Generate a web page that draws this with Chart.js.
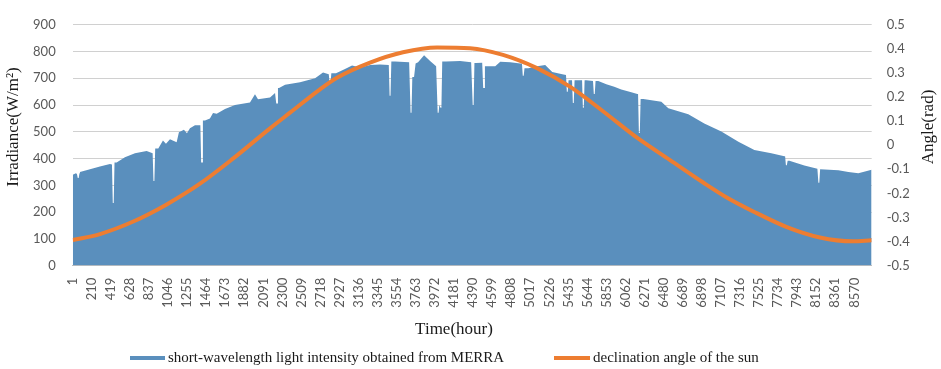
<!DOCTYPE html>
<html>
<head>
<meta charset="utf-8">
<script src="https://cdn.jsdelivr.net/npm/chart.js@4.4.0/dist/chart.umd.min.js"></script>
<style>
  html, body { margin: 0; padding: 0; background: #fff; }
  #wrap { width: 941px; height: 369px; position: relative; }
</style>
</head>
<body>
<div id="wrap"><canvas id="chart"></canvas></div>
<script>
// x axis tick labels (hours)
const xTicks = [1, 210, 419, 628, 837, 1046, 1255, 1464, 1673, 1882, 2091, 2300, 2509, 2718, 2927,
    3136, 3345, 3554, 3763, 3972, 4181, 4390, 4599, 4808, 5017, 5226, 5435, 5644, 5853, 6062,
    6271, 6480, 6689, 6898, 7107, 7316, 7525, 7734, 7943, 8152, 8361, 8570];

// short-wavelength light intensity (W/m2) as [hour, value]
const irradiance = [
    [1, 340], [36, 345], [47, 342], [56, 327], [66, 327], [75, 345], [80, 350], [190, 360], [299, 370],
    [409, 380], [431, 378], [440, 234], [450, 234], [459, 385], [482, 385], [573, 405], [683, 420],
    [811, 428], [877, 420], [886, 316], [896, 316], [905, 438], [939, 438], [990, 468], [1023, 455],
    [1067, 472], [1140, 461], [1165, 498], [1220, 508], [1253, 495], [1286, 513], [1341, 525],
    [1400, 525], [1409, 385], [1419, 385], [1428, 542], [1451, 542], [1505, 550], [1539, 570],
    [1579, 568], [1670, 585], [1780, 600], [1944, 610], [1999, 640], [2032, 622], [2164, 628],
    [2219, 645], [2223, 645], [2232, 606], [2242, 606], [2251, 664], [2263, 664], [2329, 676],
    [2493, 685], [2658, 700], [2745, 722], [2808, 715], [2817, 681], [2827, 681], [2836, 719],
    [2887, 719], [2986, 735], [3063, 748], [3151, 740], [3261, 750], [3370, 752], [3466, 750],
    [3475, 635], [3485, 635], [3494, 763], [3535, 763], [3689, 760], [3696, 760], [3705, 571],
    [3715, 571], [3724, 705], [3743, 705], [3760, 755], [3787, 760], [3853, 786], [3919, 765],
    [3985, 745], [3993, 745], [4002, 571], [4012, 571], [4020, 600], [4033, 590], [4043, 590],
    [4052, 763], [4094, 763], [4248, 765], [4369, 760], [4377, 760], [4386, 600], [4396, 600],
    [4405, 757], [4424, 757], [4490, 758], [4492, 758], [4501, 664], [4511, 664], [4520, 745],
    [4556, 745], [4633, 745], [4688, 762], [4798, 760], [4907, 755], [4926, 755], [4935, 710],
    [4945, 710], [4954, 738], [4995, 738], [5093, 745], [5181, 750], [5258, 724], [5368, 715],
    [5409, 712], [5418, 650], [5428, 650], [5437, 693], [5467, 693], [5475, 693], [5484, 608],
    [5494, 608], [5503, 693], [5522, 693], [5585, 693], [5594, 590], [5604, 590], [5613, 693],
    [5632, 693], [5705, 690], [5714, 641], [5724, 641], [5733, 690], [5763, 690], [5851, 678],
    [5938, 668], [6015, 658], [6125, 648], [6191, 641], [6199, 641], [6208, 496], [6218, 496],
    [6227, 623], [6257, 623], [6454, 612], [6531, 588], [6750, 566], [6925, 531], [7112, 501],
    [7299, 463], [7474, 432], [7660, 420], [7803, 409], [7811, 409], [7820, 375], [7830, 375],
    [7839, 392], [7858, 392], [8022, 374], [8165, 362], [8167, 362], [8176, 310], [8186, 310],
    [8195, 360], [8198, 360], [8395, 356], [8505, 350], [8614, 345], [8760, 358]
];

// declination angle of the sun (rad)
const declHours = [1, 300, 665, 1031, 1396, 1761, 2164, 2383, 2712, 2898, 3260, 3622, 3995,
    4357, 4718, 5091, 5456, 5818, 6191, 6550, 6913, 7176, 7462, 7830, 8192, 8554, 8760];
const declValues = [-0.394, -0.369, -0.317, -0.246, -0.160, -0.055, 0.070, 0.135, 0.232, 0.280,
    0.343, 0.386, 0.406, 0.403, 0.375, 0.320, 0.242, 0.140, 0.030, -0.062, -0.155, -0.218, -0.275,
    -0.340, -0.383, -0.399, -0.395];

const blue = '#5a8fbd';
const orange = '#ed7d31';
const serif = '"Liberation Serif", "Times New Roman", serif';
const sans = 'Lato, "Open Sans", sans-serif';

const extraText = {
    id: 'extraText',
    afterDraw(chart) {
        const ctx = chart.ctx;
        ctx.save();
        ctx.fillStyle = '#1a1a1a';
        ctx.textBaseline = 'middle';
        ctx.font = '17px ' + serif;
        ctx.textAlign = 'center';
        ctx.save();
        ctx.translate(14, 127);
        ctx.rotate(-Math.PI / 2);
        ctx.fillText('Irradiance(W/m\u00b2)', 0, 0);
        ctx.restore();
        ctx.save();
        ctx.translate(929, 127);
        ctx.rotate(-Math.PI / 2);
        ctx.fillText('Angle(rad)', 0, 0);
        ctx.restore();
        ctx.fillText('Time(hour)', 454, 330);

        // legend
        ctx.font = '15px ' + serif;
        ctx.textAlign = 'left';
        ctx.fillStyle = blue;
        ctx.fillRect(130, 356, 35, 4);
        ctx.fillStyle = orange;
        ctx.fillRect(554, 356, 36, 4);
        ctx.fillStyle = '#1a1a1a';
        ctx.fillText('short-wavelength light intensity obtained from MERRA', 168, 358);
        ctx.fillText('declination angle of the sun', 593, 358);
        ctx.restore();
    }
};

const ctx = document.getElementById('chart');
new Chart(ctx, {
    type: 'line',
    data: {
        datasets: [{
            label: 'declination angle of the sun',
            data: declHours.map((h, i) => ({ x: h, y: declValues[i] })),
            yAxisID: 'y1',
            borderColor: orange,
            backgroundColor: orange,
            borderWidth: 4,
            pointRadius: 0,
            cubicInterpolationMode: 'monotone',
            fill: false
        }, {
            label: 'short-wavelength light intensity obtained from MERRA',
            data: irradiance.map(p => ({ x: p[0], y: p[1] })),
            yAxisID: 'y',
            borderColor: blue,
            backgroundColor: blue,
            borderWidth: 0,
            pointRadius: 0,
            tension: 0,
            fill: 'origin'
        }]
    },
    options: {
        responsive: true,
        maintainAspectRatio: false,
        animation: false,
        layout: {
            padding: { top: 0, left: 0, right: 0, bottom: 0 }
        },
        plugins: {
            legend: { display: false },
            tooltip: { enabled: false }
        },
        scales: {
            x: {
                type: 'linear',
                min: 0.5,
                max: 8760.5,
                afterBuildTicks: (scale) => {
                    scale.ticks = xTicks.map(v => ({ value: v }));
                },
                afterFit: (scale) => { scale.height = 103.4; },
                grid: { display: false },
                border: { display: true, color: '#bfbfbf' },
                ticks: {
                    autoSkip: false,
                    minRotation: 90,
                    maxRotation: 90,
                    padding: 4,
                    color: '#595959',
                    font: { family: sans, size: 13 },
                    callback: (v) => String(v)
                }
            },
            y: {
                position: 'left',
                min: 0,
                max: 900,
                afterFit: (scale) => { scale.width = 72.7; },
                grid: { color: '#d0d0d0', drawTicks: false },
                border: { display: false },
                ticks: {
                    stepSize: 100,
                    padding: 17,
                    color: '#595959',
                    font: { family: sans, size: 13 }
                }
            },
            y1: {
                position: 'right',
                min: -0.5,
                max: 0.5,
                afterFit: (scale) => { scale.width = 69.3; },
                grid: { display: false, drawTicks: false },
                border: { display: false },
                ticks: {
                    stepSize: 0.1,
                    padding: 15,
                    color: '#595959',
                    font: { family: sans, size: 13 },
                    callback: (v) => String(+v.toFixed(1))
                }
            }
        }
    },
    plugins: [extraText]
});
</script>
</body>
</html>
